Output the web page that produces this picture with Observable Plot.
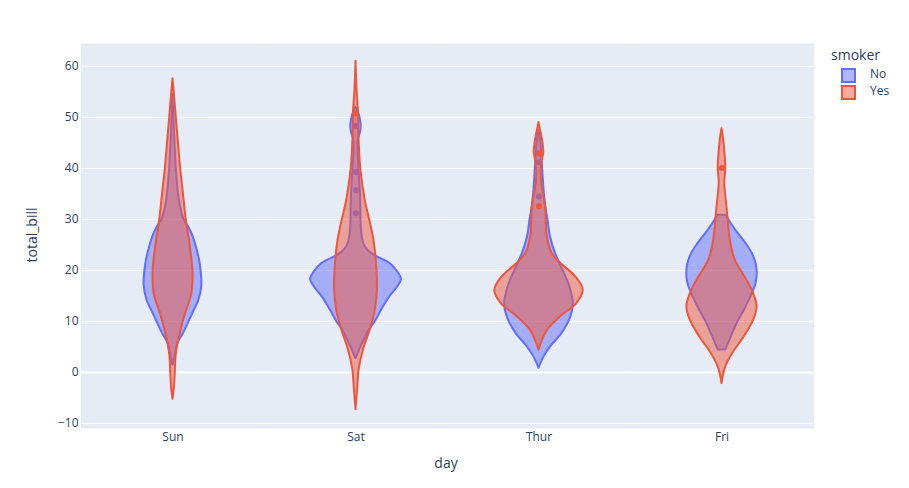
<!DOCTYPE html>
<html>
<head>
<meta charset="utf-8">
<script src="https://cdn.jsdelivr.net/npm/d3@7"></script>
<script src="https://cdn.jsdelivr.net/npm/@observablehq/plot@0.6"></script>
<style>
  body { margin: 0; background: #fff; }
  #chart { position: relative; width: 909px; height: 488px; font-family: "Open Sans", sans-serif; color: #2a3f5f; }
  #chart svg { position: absolute; left: 0; top: 0; }
  .title { position: absolute; font-size: 14px; white-space: nowrap; }
  .ylab { left: 31px; top: 235px; transform: translate(-50%, -50%) rotate(-90deg); }
  .xlab { left: 446px; top: 462px; transform: translate(-50%, -50%); }
  .legend { position: absolute; left: 831px; top: 46px; }
  .legend .head { font-size: 14px; line-height: 18px; }
  .legend .item { position: relative; height: 17px; font-size: 12px; }
  .legend .sw { position: absolute; left: 10px; top: 4px; width: 11px; height: 11px; border: 2px solid; }
  .legend .lab { position: absolute; left: 39px; top: 1px; }
</style>
</head>
<body>
<div id="chart"></div>
<script>
// Days in display order
const days = ["Sun", "Sat", "Thur", "Fri"];
const smokers = ["No", "Yes"];
const colors = { No: "#636efa", Yes: "#EF553B" };

// Violin outlines: [total_bill, half-width of the density]
const sunNo = [[1.4,0],[3,2],[5.7,5],[7.6,10.5],[10,16.3],[12,21],[14.1,26],[17,29],[20,28.2],[22,26.7],[24.6,23.5],[26.5,20.5],[28.4,16],[30,11],[32.5,7.5],[35,5.5],[40,3.3],[45,2],[50,1],[54.5,0]];
const sunYes = [[-5.3,0],[-2.8,1.5],[0,2.3],[3,3],[5.7,5],[7.6,7.3],[10,10.3],[12,13.5],[14,17],[15.5,19],[17.5,20],[20,20],[23,18.5],[26.6,16],[30,13.3],[35,10.5],[40,7.7],[45,5.5],[50,3.3],[55,1.2],[57.6,0]];
const satNo = [[2.7,0],[4,3],[5,5],[6.6,9],[8,12.5],[10,19.5],[12.2,25.7],[14.8,34],[16.8,42],[18.2,45.7],[19.7,42],[21.4,34],[22.7,21],[23.6,14],[24.6,9.5],[25.5,7.5],[27.3,5.8],[30,5],[34,4.7],[40,3],[44,2],[45.8,2.5],[47,4.5],[48.3,5.2],[49.5,4.5],[51,2.5],[52,0]];
const satYes = [[-7.3,0],[-3.2,1.7],[0.7,3.3],[4.6,7.8],[8.6,14.8],[12.5,19.7],[16.4,21.5],[20.3,21],[25.6,18.3],[27.3,16.7],[29.5,14.3],[33.8,9.2],[40,4.8],[45.2,3.2],[50,2.5],[51,2.5],[55.6,1],[61,0]];
const thurNo = [[0.8,0],[3,5],[5,11.7],[7.6,23],[10.9,32],[13.5,34.5],[16.8,31],[20.1,24],[23.3,16.7],[26.6,11.5],[30,9],[33,6.5],[36,5],[39,4],[42,3],[45,2],[47.5,0]];
const thurYes = [[4.4,0],[5.7,2.3],[8.3,8.7],[10.9,21.7],[13.5,38],[16.1,44.5],[18.8,36.7],[21.4,21.7],[23.3,13.3],[26.6,8.3],[30,7.3],[32.7,6.5],[34.8,4.7],[37.4,2.7],[40,2.3],[41.5,3.3],[43.1,4.8],[44.5,4.3],[46.5,2.7],[47.5,1.5],[49,0]];
const friNo = [[4.4,3.8],[7,9.5],[9.7,15.5],[12.2,22.5],[14.8,29],[17.5,34.3],[20.1,35.3],[22.7,32],[25.3,24],[27.9,13.7],[29.9,7],[30.8,4.5]];
const friYes = [[-2.2,0],[-0.8,1.2],[1.1,3.8],[3.7,10.8],[7,22.5],[10.3,32],[12.9,35.3],[15.5,31.7],[18.1,25],[22,13.3],[26,8.3],[29.9,6.2],[33.8,4.3],[37.1,2.8],[40.1,3.8],[42.9,3],[45.6,1.7],[47.8,0]];

// Outlying bills shown as points
const satNoOut = [31.2, 35.7, 39.3, 48.3];
const thurNoOut = [34.5, 41.2];
const satYesOut = [50.8];
const thurYesOut = [32.6, 43.0];
const friYesOut = [40.1];

const yTicks = [-10, 0, 10, 20, 30, 40, 50, 60];

const violins = [
  ["Sun", "No", sunNo], ["Sat", "No", satNo], ["Thur", "No", thurNo], ["Fri", "No", friNo],
  ["Sun", "Yes", sunYes], ["Sat", "Yes", satYes], ["Thur", "Yes", thurYes], ["Fri", "Yes", friYes]
];
const outliers = [
  ["Sat", "No", satNoOut], ["Thur", "No", thurNoOut],
  ["Sat", "Yes", satYesOut], ["Thur", "Yes", thurYesOut], ["Fri", "Yes", friYesOut]
];

const shape = violins.flatMap(([day, smoker, pts]) =>
  pts.map(([bill, w]) => ({ day, smoker, bill, w })));
const points = outliers.flatMap(([day, smoker, vals]) =>
  vals.map(bill => ({ day, smoker, bill })));

// Non-smokers first, smokers overlaid on top
const layers = smokers.flatMap(s => [
  Plot.areaX(shape.filter(d => d.smoker === s), {
    fx: "day", y: "bill", x1: d => -d.w, x2: d => d.w,
    fill: colors[s], fillOpacity: 0.5, stroke: colors[s], strokeWidth: 2,
    strokeLinejoin: "round", curve: "catmull-rom"
  }),
  Plot.dot(points.filter(d => d.smoker === s), {
    fx: "day", x: () => 0, y: "bill", r: 3, fill: colors[s], stroke: null
  })
]);

const chart = Plot.plot({
  width: 909,
  height: 488,
  marginLeft: 79,
  marginRight: 95,
  marginTop: 43,
  marginBottom: 60,
  style: { fontFamily: "Open Sans, sans-serif", fontSize: "12px", color: "#2a3f5f", background: "transparent" },
  fx: { domain: days, padding: 0, axis: null },
  x: { domain: [-92, 92], axis: null },
  y: { domain: [-11.0, 64.5], axis: null },
  marks: [
    // panel background; slight horizontal overlap so adjacent day panels join without seams
    Plot.frame({ fill: "#E5ECF6", stroke: null, insetLeft: -0.6, insetRight: -0.6 }),
    Plot.gridY(yTicks, { stroke: "white", strokeOpacity: 1, strokeWidth: 1, insetLeft: -0.6, insetRight: -0.6 }),
    Plot.ruleY([0], { stroke: "white", strokeWidth: 2, insetLeft: -0.6, insetRight: -0.6 }),
    ...layers,
    Plot.axisY(yTicks, { tickSize: 0, tickPadding: 3, tickFormat: d3.format("d"), label: null, fontSize: 12 }),
    Plot.axisFx({ anchor: "bottom", tickSize: 0, tickPadding: 4, label: null, fontSize: 12 })
  ]
});

const root = document.getElementById("chart");
root.appendChild(chart);

// Axis titles
const ylab = document.createElement("div");
ylab.className = "title ylab";
ylab.textContent = "total_bill";
root.appendChild(ylab);
const xlab = document.createElement("div");
xlab.className = "title xlab";
xlab.textContent = "day";
root.appendChild(xlab);

// Legend
const legend = document.createElement("div");
legend.className = "legend";
const head = document.createElement("div");
head.className = "head";
head.textContent = "smoker";
legend.appendChild(head);
for (const s of smokers) {
  const item = document.createElement("div");
  item.className = "item";
  const sw = document.createElement("span");
  sw.className = "sw";
  sw.style.borderColor = colors[s];
  sw.style.background = d3.color(colors[s]).copy({ opacity: 0.5 }).formatRgb();
  const lab = document.createElement("span");
  lab.className = "lab";
  lab.textContent = s;
  item.appendChild(sw);
  item.appendChild(lab);
  legend.appendChild(item);
}
root.appendChild(legend);
</script>
</body>
</html>
